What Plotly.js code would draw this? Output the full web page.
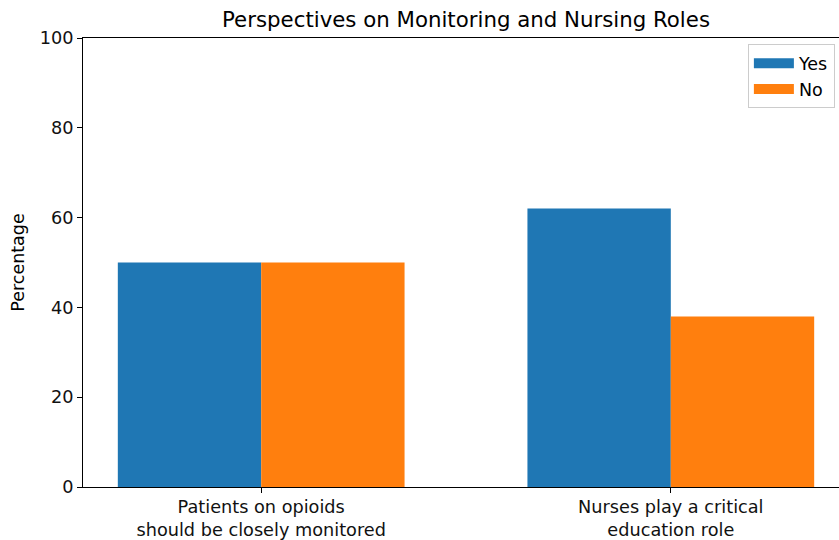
<!DOCTYPE html>
<html>
<head>
<meta charset="utf-8">
<script src="https://cdn.plot.ly/plotly-3.0.1.min.js"></script>
<style>
html,body{margin:0;padding:0;overflow:hidden;width:839px;height:540px;background:#fff;}
#chart{width:860px;height:540px;}
</style>
</head>
<body>
<div id="chart"></div>
<script>
const categories = ["Patients on opioids<br>should be closely monitored", "Nurses play a critical<br>education role"];
const seriesNames = ["Yes", "No"];
const yesValues = [50, 62];
const noValues = [50, 38];
const seriesColors = ["#1f77b4", "#ff7f0e"];
const yTicks = [0, 20, 40, 60, 80, 100];

const data = [
  {type: "bar", name: seriesNames[0], x: categories, y: yesValues, marker: {color: seriesColors[0]}, showlegend: false, legendgroup: "yes"},
  {type: "bar", name: seriesNames[1], x: categories, y: noValues, marker: {color: seriesColors[1]}, showlegend: false, legendgroup: "no"},
  {type: "scatter", mode: "lines", name: seriesNames[0], x: [null], y: [null], line: {color: seriesColors[0], width: 14}, legendgroup: "yes", hoverinfo: "skip"},
  {type: "scatter", mode: "lines", name: seriesNames[1], x: [null], y: [null], line: {color: seriesColors[1], width: 14}, legendgroup: "no", hoverinfo: "skip"}
];

const axisCommon = {
  showline: true, linecolor: "#000", linewidth: 1, mirror: true,
  ticks: "outside", ticklen: 5, tickwidth: 1, tickcolor: "#000",
  showgrid: false, zeroline: false,
  tickfont: {family: "DejaVu Sans", size: 17.7, color: "#111"}
};

const layout = {
  width: 860, height: 540,
  margin: {l: 83, r: 11, t: 38, b: 53},
  paper_bgcolor: "#fff", plot_bgcolor: "#fff",
  barmode: "group", bargap: 0.3, bargroupgap: 0,
  title: {text: "Perspectives on Monitoring and Nursing Roles", font: {family: "DejaVu Sans", size: 21.3, color: "#000"}, x: 0.5, xref: "paper", y: 0.963, yref: "container", yanchor: "middle"},
  xaxis: Object.assign({}, axisCommon, {range: [-0.435, 1.435], type: "category", ticklabelstandoff: -1}),
  yaxis: Object.assign({}, axisCommon, {range: [0, 100], tickvals: yTicks, ticktext: yTicks.map(String),
    title: {text: "Percentage", font: {family: "DejaVu Sans", size: 17.5, color: "#000"}, standoff: 10}}),
  legend: {x: 0.868, y: 0.986, xanchor: "left", yanchor: "top", bordercolor: "#ccc", borderwidth: 1,
    bgcolor: "rgba(255,255,255,0.8)", font: {family: "DejaVu Sans", size: 17.5, color: "#000"}, tracegroupgap: 0, itemwidth: 40},
  showlegend: true
};

Plotly.newPlot("chart", data, layout, {displayModeBar: false, staticPlot: true});
</script>
</body>
</html>
